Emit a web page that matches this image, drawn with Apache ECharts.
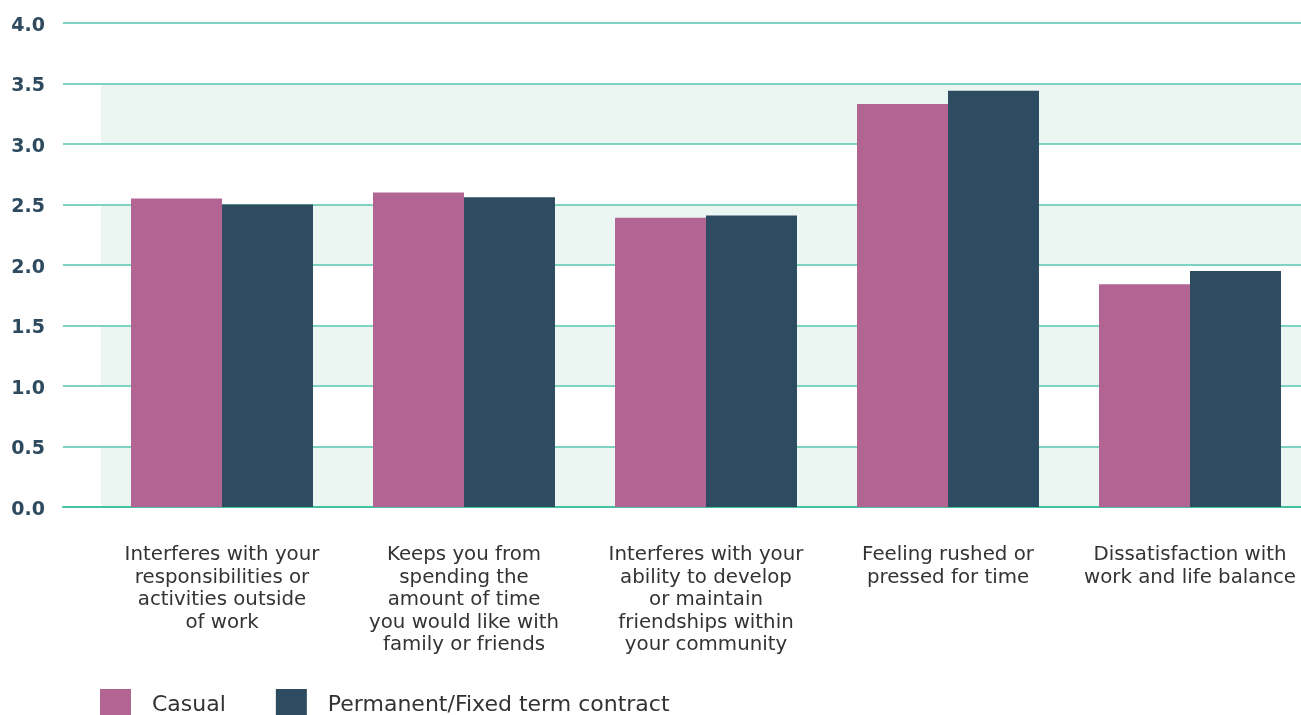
<!DOCTYPE html>
<html>
<head>
<meta charset="utf-8">
<script src="https://cdn.jsdelivr.net/npm/echarts@6/dist/echarts.min.js"></script>
<style>
  html, body { margin: 0; padding: 0; background: #ffffff; overflow: hidden; }
  #chart { width: 1320px; height: 715px; }
</style>
</head>
<body>
<div id="chart"></div>
<script>
// Work–life interference items (mean scores)
const categories = [
  'Interferes with your\nresponsibilities or\nactivities outside\nof work',
  'Keeps you from\nspending the\namount of time\nyou would like with\nfamily or friends',
  'Interferes with your\nability to develop\nor maintain\nfriendships within\nyour community',
  'Feeling rushed or\npressed for time',
  'Dissatisfaction with\nwork and life balance'
];
const casual = [2.55, 2.60, 2.39, 3.33, 1.84];
const permanent = [2.50, 2.56, 2.41, 3.44, 1.95];
const yTicks = [0, 4, 0.5]; // min, max, step

const chart = echarts.init(document.getElementById('chart'), null, { renderer: 'canvas' });

const labelFont = '"DejaVu Sans", "Noto Sans", sans-serif';

chart.setOption({
  animation: false,
  grid: [
    // wide grid: horizontal rules and value labels
    { left: 63, top: 23, width: 1248, height: 484 },
    // plotting grid: bars and banded background
    { left: 101, top: 23, width: 1210, height: 484 }
  ],
  legend: {
    left: 95,
    top: 684,
    itemWidth: 31,
    itemHeight: 27,
    itemGap: 50,
    icon: 'rect',
    formatter: name => '{t|' + name + '}',
    textStyle: {
      padding: [0, 0, 0, 16],
      rich: {
        t: { fontFamily: labelFont, fontSize: 22, color: '#333333', padding: [6, 0, 0, 0] }
      }
    },
    data: ['Casual', 'Permanent/Fixed term contract']
  },
  xAxis: [
    {
      gridIndex: 0, type: 'value', min: 0, max: 1,
      axisLine: { show: true, lineStyle: { color: '#45c2a4', width: 2 } },
      axisTick: { show: false },
      axisLabel: { show: false },
      splitLine: { show: false },
      z: 4
    },
    {
      gridIndex: 1,
      type: 'category',
      data: categories,
      axisLine: { show: false },
      axisTick: { show: false },
      axisLabel: {
        interval: 0,
        margin: 37,
        fontFamily: labelFont,
        fontSize: 19.8,
        lineHeight: 22.5,
        color: '#333333',
        align: 'center',
        verticalAlign: 'top'
      }
    }
  ],
  yAxis: [
    {
      gridIndex: 0,
      type: 'value',
      min: yTicks[0], max: yTicks[1], interval: yTicks[2],
      z: 3,
      axisLine: { show: false },
      axisTick: { show: false },
      axisLabel: {
        margin: 18,
        formatter: v => '{v|' + v.toFixed(1) + '}',
        rich: {
          v: {
            fontFamily: labelFont,
            fontSize: 19,
            fontWeight: 'bold',
            color: '#2d4a5e',
            padding: [6, 0, 0, 0]
          }
        }
      },
      splitLine: { show: true, lineStyle: { color: '#7dd3c0', width: 2 } }
    },
    {
      gridIndex: 1,
      type: 'value',
      min: yTicks[0], max: yTicks[1], interval: yTicks[2],
      z: 0,
      axisLine: { show: false },
      axisTick: { show: false },
      axisLabel: { show: false },
      splitLine: { show: false },
      splitArea: { show: true, areaStyle: { color: ['#ebf5f2', 'rgba(255,255,255,0)'] } }
    }
  ],
  series: [
    {
      name: 'Casual',
      type: 'bar',
      xAxisIndex: 1, yAxisIndex: 1,
      data: casual,
      barGap: '0%',
      barCategoryGap: '24.8%',
      itemStyle: { color: '#b26493' },
      z: 4
    },
    {
      name: 'Permanent/Fixed term contract',
      type: 'bar',
      xAxisIndex: 1, yAxisIndex: 1,
      data: permanent,
      barGap: '0%',
      barCategoryGap: '24.8%',
      itemStyle: { color: '#2d4c61' },
      z: 4
    }
  ]
});
</script>
</body>
</html>
